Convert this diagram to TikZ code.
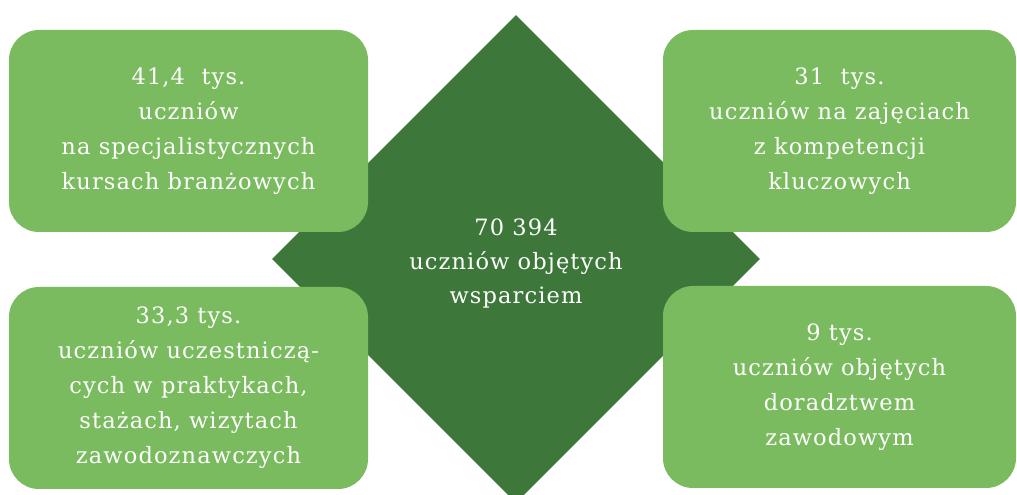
\documentclass[tikz,border=0pt]{standalone}
\usepackage{fontspec}
\setmainfont{DejaVu Serif}[LetterSpace=5]
\usetikzlibrary{shapes.geometric}
\definecolor{lightg}{HTML}{7ABB5F}
\definecolor{darkg}{HTML}{3D783A}
\tikzset{
  infobox/.style={rectangle, rounded corners=30pt, fill=lightg, text=white, align=center,
    inner sep=0pt, minimum height=202pt, font=\fontsize{22.5}{35}\selectfont},
  centerdiamond/.style={diamond, fill=darkg, minimum width=488pt, minimum height=488pt, inner sep=0pt},
  centertext/.style={text=white, align=center, inner sep=0pt, font=\fontsize{22.5}{34}\selectfont}
}
\begin{document}
\begin{tikzpicture}[x=1pt,y=1pt]
\useasboundingbox (0,0) rectangle (1017,495);
\clip (0,0) rectangle (1017,495);
\node[centerdiamond] (hub) at (516,236) {};
\node[infobox, minimum width=359pt] (tl) at (188.5,364) {41,4\ \ tys.\\uczniów\\na specjalistycznych\\kursach branżowych};
\node[infobox, minimum width=353pt] (tr) at (839.5,364) {31\ \ tys.\\uczniów na zajęciach\\z kompetencji\\kluczowych};
\node[infobox, minimum width=359pt] (bl) at (188.5,107) {33,3 tys.\\uczniów uczestniczą-\\cych w praktykach,\\stażach, wizytach\\zawodoznawczych};
\node[infobox, minimum width=353pt] (br) at (839.5,108) {9 tys.\\uczniów objętych\\doradztwem\\zawodowym};
\node[centertext] (hubtext) at ([yshift=-4pt]hub.center) {70 394\\uczniów objętych\\wsparciem};
\end{tikzpicture}
\end{document}
